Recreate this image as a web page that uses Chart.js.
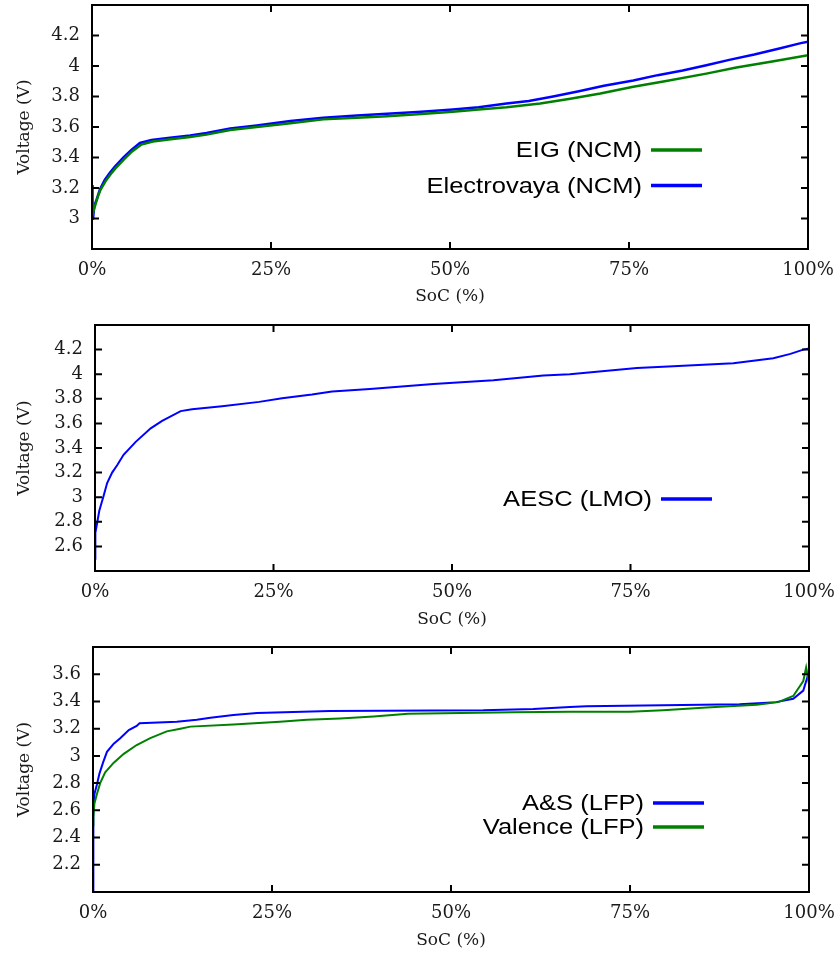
<!DOCTYPE html>
<html>
<head>
<meta charset="utf-8">
<script src="https://cdn.jsdelivr.net/npm/chart.js@4.4.0/dist/chart.umd.min.js"></script>
<style>
  html, body { margin: 0; padding: 0; background: #fff; }
  canvas { display: block; }
</style>
</head>
<body>
<canvas id="c1" width="839" height="318"></canvas>
<canvas id="c2" width="839" height="318"></canvas>
<canvas id="c3" width="839" height="320"></canvas>
<script>
// --- data (SoC in %, voltage in V) ---

// panel 1: NCM cells
const eigSoc = [0, 0.1, 0.4, 0.8, 1.2, 1.9, 2.6, 3.3, 4.5, 5.6, 6.9, 8.5, 11, 13.7, 16, 19.3, 23, 27.7, 32.3, 37, 41.2, 46, 50.4, 54, 57.9, 62.6, 66.8, 71, 75.6, 80, 85.8, 90, 95, 100];
const eigV   = [3.22, 3.03, 3.08, 3.14, 3.19, 3.245, 3.29, 3.33, 3.39, 3.44, 3.485, 3.505, 3.52, 3.535, 3.55, 3.58, 3.60, 3.625, 3.65, 3.66, 3.67, 3.685, 3.70, 3.715, 3.73, 3.754, 3.785, 3.82, 3.864, 3.90, 3.95, 3.99, 4.03, 4.07];

const elvSoc = [0, 0.15, 0.3, 0.65, 1.1, 1.8, 2.5, 3.2, 4.4, 5.5, 6.7, 8.3, 10.9, 13.7, 16, 19.3, 23, 27.7, 32.3, 37, 41.2, 46, 50.4, 54, 57.9, 61, 64.4, 68, 71.5, 75.6, 79, 82.5, 85.8, 89, 92.5, 96, 99, 100];
const elvV   = [3.0, 3.0, 3.08, 3.125, 3.19, 3.255, 3.30, 3.34, 3.40, 3.45, 3.495, 3.515, 3.53, 3.545, 3.56, 3.59, 3.61, 3.64, 3.66, 3.675, 3.687, 3.70, 3.715, 3.73, 3.754, 3.77, 3.80, 3.835, 3.87, 3.905, 3.94, 3.97, 4.005, 4.04, 4.075, 4.115, 4.15, 4.16];

// panel 2: LMO cell
const aescSoc = [0, 0.05, 0.3, 0.6, 1.2, 1.7, 2.4, 3.1, 4.0, 5.7, 7.8, 9.4, 12, 13.6, 17.8, 23, 26.2, 30.4, 33.2, 38.5, 47.4, 55.8, 62.8, 66.5, 75.9, 81, 89.4, 95, 97.4, 99.2, 100];
const aescV   = [2.50, 2.71, 2.79, 2.89, 3.01, 3.115, 3.20, 3.26, 3.345, 3.45, 3.56, 3.62, 3.70, 3.715, 3.74, 3.775, 3.805, 3.835, 3.86, 3.88, 3.92, 3.95, 3.99, 4.00, 4.05, 4.065, 4.09, 4.13, 4.165, 4.20, 4.21];

// panel 3: LFP cells
const asSoc = [0, 0.05, 0.2, 0.55, 0.9, 1.4, 1.95, 2.9, 3.8, 5.0, 6.1, 6.5, 11.7, 14.5, 16.4, 19.6, 22.9, 33.1, 54.5, 61.5, 66.6, 68.9, 90.3, 95.4, 97.8, 99.2, 99.9, 100];
const asV   = [1.99, 2.6, 2.72, 2.79, 2.87, 2.95, 3.03, 3.09, 3.13, 3.19, 3.22, 3.24, 3.25, 3.265, 3.28, 3.30, 3.315, 3.33, 3.335, 3.345, 3.36, 3.365, 3.38, 3.395, 3.42, 3.48, 3.60, 3.64];

const valSoc = [0, 0.05, 0.2, 0.55, 1.0, 1.7, 2.9, 4.3, 6.1, 8.0, 10.3, 12.2, 13.6, 19.6, 26.1, 29.9, 34.5, 39.2, 44, 58.7, 66.6, 75, 79.6, 85.7, 92.7, 95.7, 97.8, 99.2, 99.6, 100];
const valV   = [2.49, 2.55, 2.65, 2.72, 2.80, 2.88, 2.95, 3.015, 3.08, 3.13, 3.18, 3.20, 3.215, 3.23, 3.25, 3.265, 3.275, 3.29, 3.31, 3.32, 3.325, 3.325, 3.335, 3.355, 3.375, 3.395, 3.44, 3.55, 3.65, 3.53];

const BLUE = '#0000ff';
const GREEN = '#008000';
const serif = { family: '"DejaVu Serif", serif', size: 18 };
const serifTitle = { family: '"DejaVu Serif", serif', size: 17 };

// box around the plot + inward tick marks on all four sides
const frame = {
  id: 'frame',
  afterDatasetsDraw(chart) {
    const { ctx, chartArea: a, scales: { x, y } } = chart;
    ctx.save();
    ctx.strokeStyle = '#000';
    ctx.lineWidth = 2;
    ctx.strokeRect(a.left, a.top, a.right - a.left, a.bottom - a.top);
    ctx.beginPath();
    x.ticks.forEach(t => {
      const px = x.getPixelForValue(t.value);
      ctx.moveTo(px, a.bottom); ctx.lineTo(px, a.bottom - 7);
      ctx.moveTo(px, a.top); ctx.lineTo(px, a.top + 7);
    });
    y.ticks.forEach(t => {
      const py = y.getPixelForValue(t.value);
      ctx.moveTo(a.left, py); ctx.lineTo(a.left + 7, py);
      ctx.moveTo(a.right, py); ctx.lineTo(a.right - 7, py);
    });
    ctx.stroke();
    ctx.restore();
  }
};

// gnuplot style key: label right aligned, line sample after it
const keyBox = {
  id: 'keyBox',
  afterDraw(chart, args, opts) {
    const ctx = chart.ctx;
    (opts.items || []).forEach(k => {
      const ds = chart.data.datasets[k.ds];
      ctx.save();
      ctx.font = '22px "Liberation Sans", Arial, sans-serif';
      ctx.fillStyle = '#000';
      ctx.textAlign = 'right';
      ctx.textBaseline = 'middle';
      ctx.translate(k.x, k.y);
      ctx.scale(1.16, 1);
      ctx.fillText(ds.label, 0, 1);
      ctx.restore();
      ctx.save();
      ctx.strokeStyle = ds.borderColor;
      ctx.lineWidth = 3.5;
      ctx.beginPath();
      ctx.moveTo(k.x + 9, k.y);
      ctx.lineTo(k.x + 60, k.y);
      ctx.stroke();
      ctx.restore();
    });
  }
};

function zeroPad(s) {
  s.paddingTop = 0; s.paddingBottom = 0; s.paddingLeft = 0; s.paddingRight = 0;
}

function panel(id, o) {
  return new Chart(document.getElementById(id), {
    type: 'line',
    data: {
      datasets: o.series.map(s => ({
        label: s.label,
        data: s.xs.map((x, i) => ({ x: x, y: s.ys[i] })),
        borderColor: s.color,
        borderWidth: o.lw,
        pointRadius: 0,
        tension: 0,
        fill: false,
        order: s.order
      }))
    },
    options: {
      responsive: false,
      animation: false,
      events: [],
      layout: { padding: { top: o.top, right: o.right, left: 0, bottom: 0 } },
      plugins: {
        legend: { display: false },
        tooltip: { enabled: false },
        keyBox: { items: o.keys }
      },
      scales: {
        x: {
          type: 'linear', min: 0, max: 100,
          ticks: { stepSize: 25, padding: 11, color: '#1a1a1a', font: serif, maxRotation: 0, callback: v => v + '%' },
          grid: { display: false, drawTicks: false },
          border: { display: false },
          title: { display: true, text: 'SoC (%)', color: '#1a1a1a', font: serifTitle, padding: { top: 0, bottom: o.xTitlePad } },
          afterFit: s => { s.height = o.xh; zeroPad(s); }
        },
        y: {
          type: 'linear', min: o.yMin, max: o.yMax,
          ticks: { stepSize: 0.2, padding: 12, color: '#1a1a1a', font: serif, callback: v => String(Math.round(v * 10) / 10) },
          grid: { display: false, drawTicks: false },
          border: { display: false },
          title: { display: true, text: 'Voltage (V)', color: '#1a1a1a', font: serifTitle, padding: { top: 14, bottom: 0 } },
          afterBuildTicks: s => { s.ticks = s.ticks.filter(t => t.value > o.yMin + 1e-6 && t.value < o.yMax - 1e-6); },
          afterFit: s => { s.width = o.left; zeroPad(s); }
        }
      }
    },
    plugins: [frame, keyBox]
  });
}

panel('c1', {
  top: 5, right: 31, left: 92, xh: 69, xTitlePad: 11, lw: 2.5,
  yMin: 2.8, yMax: 4.4,
  series: [
    { label: 'EIG (NCM)', xs: eigSoc, ys: eigV, color: GREEN, order: 0 },
    { label: 'Electrovaya (NCM)', xs: elvSoc, ys: elvV, color: BLUE, order: 1 }
  ],
  keys: [{ ds: 0, x: 642, y: 150 }, { ds: 1, x: 642, y: 185.5 }]
});

panel('c2', {
  top: 7, right: 30, left: 95, xh: 65, xTitlePad: 6, lw: 2,
  yMin: 2.4, yMax: 4.4,
  series: [
    { label: 'AESC (LMO)', xs: aescSoc, ys: aescV, color: BLUE, order: 0 }
  ],
  keys: [{ ds: 0, x: 652, y: 181 }]
});

panel('c3', {
  top: 11, right: 30, left: 93, xh: 64, xTitlePad: 5, lw: 2,
  yMin: 2.0, yMax: 3.8,
  series: [
    { label: 'A&S (LFP)', xs: asSoc, ys: asV, color: BLUE, order: 1 },
    { label: 'Valence (LFP)', xs: valSoc, ys: valV, color: GREEN, order: 0 }
  ],
  keys: [{ ds: 0, x: 644, y: 167 }, { ds: 1, x: 644, y: 191 }]
});
</script>
</body>
</html>
